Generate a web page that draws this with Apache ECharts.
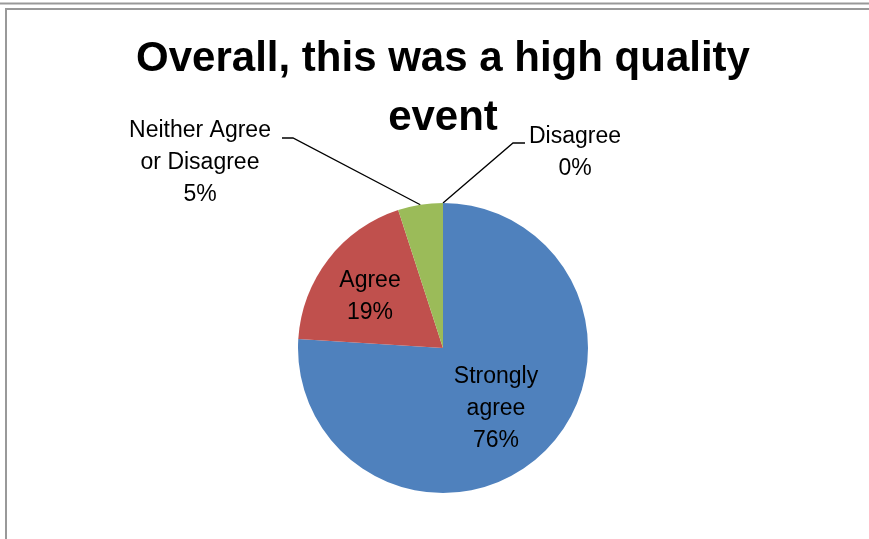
<!DOCTYPE html>
<html>
<head>
<meta charset="utf-8">
<script src="https://cdn.jsdelivr.net/npm/echarts@6/dist/echarts.min.js"></script>
<style>
  html, body { margin: 0; padding: 0; background: #ffffff; }
  #chart { width: 869px; height: 539px; }
</style>
</head>
<body>
<div id="chart"></div>
<script>
// Survey responses for "Overall, this was a high quality event"
const categories = ['Strongly agree', 'Agree', 'Neither Agree or Disagree', 'Disagree'];
const labelNames = ['Strongly\nagree', 'Agree', 'Neither Agree\nor Disagree', 'Disagree'];
const values = [76, 19, 5, 0];
const colors = ['#4F81BD', '#C0504D', '#9BBB59', '#8064A2'];

// Where each slice label sits; outside labels get a leader line with an elbow
const labelPlacement = [
  { x: 496, y: 409, inside: true },
  { x: 370, y: 297, inside: true },
  { x: 200, y: 163, elbow: [293, 138], end: [282, 138] },
  { x: 575, y: 153, elbow: [513, 143], end: [525, 143] }
];

const seriesData = categories.map((name, i) => {
  const item = { name: name, value: values[i], itemStyle: { color: colors[i] } };
  if (labelPlacement[i].inside) {
    item.label = { position: 'inside' };
    item.labelLine = { show: false };
  }
  return item;
});

const chart = echarts.init(document.getElementById('chart'), null, { renderer: 'canvas' });

chart.setOption({
  animation: false,
  backgroundColor: '#ffffff',
  title: {
    text: 'Overall, this was a high quality\nevent',
    left: 443,
    top: 30,
    padding: 0,
    textAlign: 'center',
    textStyle: {
      fontFamily: 'Liberation Sans',
      fontWeight: 'bold',
      fontSize: 42,
      lineHeight: 59,
      color: '#000000'
    }
  },
  graphic: [
    {
      type: 'line', z: -1, silent: true,
      shape: { x1: 0, y1: 3.5, x2: 869, y2: 3.5 },
      style: { stroke: '#999999', lineWidth: 2 }
    },
    {
      type: 'rect', z: -1, silent: true,
      shape: { x: 6, y: 9, width: 900, height: 600 },
      style: { fill: null, stroke: '#999999', lineWidth: 2 }
    }
  ],
  series: [
    {
      type: 'pie',
      center: [443, 348],
      radius: 145,
      startAngle: 90,
      clockwise: true,
      avoidLabelOverlap: false,
      silent: true,
      itemStyle: { borderWidth: 0 },
      label: {
        show: true,
        position: 'outside',
        fontFamily: 'Liberation Sans',
        fontSize: 23,
        lineHeight: 32,
        color: '#000000',
        align: 'center',
        formatter: (p) => labelNames[p.dataIndex] + '\n' + p.percent + '%'
      },
      labelLine: {
        show: true,
        length: 10,
        length2: 10,
        smooth: false,
        lineStyle: { color: '#000000', width: 1.3 }
      },
      labelLayout: (params) => {
        const p = labelPlacement[params.dataIndex];
        const out = { x: p.x, y: p.y, align: 'center', verticalAlign: 'middle' };
        if (!p.inside && params.labelLinePoints) {
          out.labelLinePoints = [params.labelLinePoints[0], p.elbow, p.end];
        }
        return out;
      },
      data: seriesData
    }
  ]
});
</script>
</body>
</html>
